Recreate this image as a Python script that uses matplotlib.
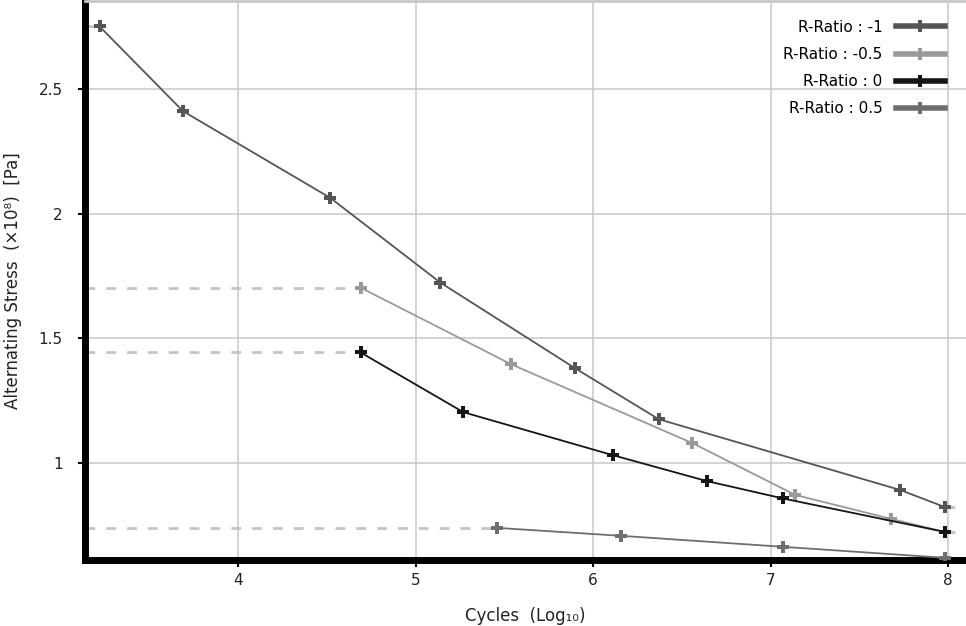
import matplotlib
matplotlib.use("Agg")
import matplotlib.pyplot as plt
from matplotlib.lines import Line2D

# cycles (log10) and alternating stress (x10^8 Pa) for each R-ratio
x_m1 = [3.22, 3.69, 4.52, 5.14, 5.90, 6.37, 7.73, 7.98]
y_m1 = [2.752, 2.412, 2.064, 1.724, 1.38, 1.176, 0.892, 0.824]

x_m05 = [4.69, 5.54, 6.56, 7.14, 7.68, 7.98]
y_m05 = [1.704, 1.396, 1.08, 0.872, 0.776, 0.724]

x_0 = [4.69, 5.27, 6.11, 6.64, 7.07, 7.98]
y_0 = [1.444, 1.204, 1.032, 0.928, 0.858, 0.724]

x_05 = [5.46, 6.16, 7.07, 7.98]
y_05 = [0.74, 0.708, 0.664, 0.62]

labels = ["R-Ratio : -1", "R-Ratio : -0.5", "R-Ratio : 0", "R-Ratio : 0.5"]
colors = ["#555555", "#9a9a9a", "#151515", "#6e6e6e"]

XMIN, XMAX = 3.138, 8.101
YMIN, YMAX = 0.611, 2.853


def main():
    fig = plt.figure(figsize=(9.66, 6.26), dpi=100)
    ax = fig.add_axes([0.088, 0.1054, 0.912, 0.8926])

    series = [(x_m1, y_m1), (x_m05, y_m05), (x_0, y_0), (x_05, y_05)]

    # dashed guide lines before the first point and after the last one
    for xs, ys in series:
        ax.plot([XMIN, xs[0]], [ys[0], ys[0]], color="#c4c4c4", lw=2,
                dashes=(3.5, 4), zorder=2)
        ax.plot([xs[-1], XMAX], [ys[-1], ys[-1]], color="#c4c4c4", lw=2,
                dashes=(3.5, 4), zorder=2)

    for (xs, ys), c in zip(series, colors):
        ax.plot(xs, ys, color=c, lw=1.3, marker="P", markersize=8.5,
                markeredgewidth=0, zorder=3)

    ax.set_xlim(XMIN, XMAX)
    ax.set_ylim(YMIN, YMAX)
    ax.set_xticks([4, 5, 6, 7, 8])
    ax.set_xticklabels(["4", "5", "6", "7", "8"])
    ax.set_yticks([1, 1.5, 2, 2.5])
    ax.set_yticklabels(["1", "1.5", "2", "2.5"])
    ax.grid(True, color="#c8c8c8", lw=1.1)
    ax.set_axisbelow(True)

    ax.spines["left"].set_linewidth(5)
    ax.spines["bottom"].set_linewidth(5)
    ax.spines["top"].set_color("#c8c8c8")
    ax.spines["top"].set_linewidth(2)
    ax.spines["right"].set_visible(False)
    ax.tick_params(labelsize=11, length=5, width=1.5, color="black",
                   labelcolor="#222222")
    ax.tick_params(axis="x", pad=4)
    ax.tick_params(axis="y", pad=11)

    ax.set_xlabel("Cycles  (Log\u2081\u2080)", fontsize=12, color="#222222",
                  labelpad=14)
    ax.set_ylabel("Alternating Stress  (\u00d710\u2078)  [Pa]", fontsize=12,
                  color="#222222", labelpad=12)

    handles = [Line2D([0], [0], color=c, lw=4, marker="P", markersize=8,
                      markeredgewidth=0) for c in colors]
    ax.legend(handles, labels, loc="upper right", bbox_to_anchor=(0.983, 0.978),
              frameon=False, markerfirst=False, fontsize=11, handlelength=3.2,
              handletextpad=0.9, labelspacing=0.8, borderaxespad=0)

    fig.savefig("out.png", dpi=100)


if __name__ == "__main__":
    main()
